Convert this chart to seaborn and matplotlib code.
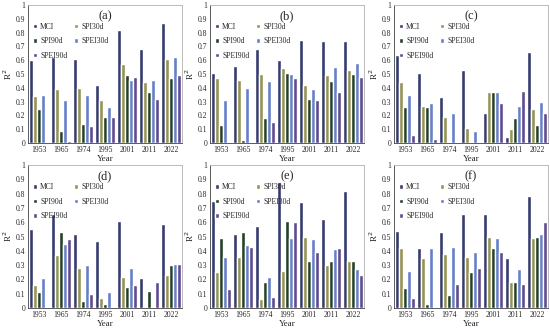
import pandas as pd
import matplotlib
matplotlib.use('Agg')
import matplotlib.pyplot as plt
import seaborn as sns

years = ['1953', '1965', '1974', '1995', '2001', '2011', '2022']
indices = ['MCI', 'SPI30d', 'SPI90d', 'SPEI30d', 'SPEI90d']
panel_labels = ['(a)', '(b)', '(c)', '(d)', '(e)', '(f)']

# values per index, one list per year order
a_vals = {
    'MCI':     [0.60, 0.62, 0.61, 0.42, 0.82, 0.68, 0.87],
    'SPI30d':  [0.34, 0.39, 0.40, 0.31, 0.57, 0.44, 0.61],
    'SPI90d':  [0.25, 0.085, 0.14, 0.19, 0.49, 0.37, 0.47],
    'SPEI30d': [0.35, 0.31, 0.35, 0.26, 0.46, 0.46, 0.62],
    'SPEI90d': [0.005, 0.015, 0.12, 0.19, 0.48, 0.32, 0.49],
}
b_vals = {
    'MCI':     [0.51, 0.56, 0.68, 0.60, 0.75, 0.74, 0.74],
    'SPI30d':  [0.47, 0.46, 0.50, 0.54, 0.42, 0.49, 0.53],
    'SPI90d':  [0.13, 0.02, 0.18, 0.51, 0.32, 0.45, 0.50],
    'SPEI30d': [0.31, 0.40, 0.45, 0.50, 0.39, 0.55, 0.58],
    'SPEI90d': [0.005, 0.003, 0.15, 0.47, 0.31, 0.37, 0.48],
}
c_vals = {
    'MCI':     [0.64, 0.51, 0.33, 0.53, 0.22, 0.04, 0.66],
    'SPI30d':  [0.44, 0.27, 0.19, 0.11, 0.37, 0.10, 0.25],
    'SPI90d':  [0.26, 0.26, 0.01, 0.01, 0.37, 0.18, 0.13],
    'SPEI30d': [0.35, 0.29, 0.22, 0.09, 0.37, 0.27, 0.30],
    'SPEI90d': [0.06, 0.03, 0.003, 0.01, 0.29, 0.38, 0.22],
}
d_vals = {
    'MCI':     [0.55, 0.66, 0.52, 0.47, 0.61, 0.21, 0.59],
    'SPI30d':  [0.16, 0.37, 0.28, 0.07, 0.22, 0.01, 0.23],
    'SPI90d':  [0.11, 0.53, 0.05, 0.03, 0.15, 0.12, 0.30],
    'SPEI30d': [0.21, 0.45, 0.30, 0.11, 0.28, 0.01, 0.31],
    'SPEI90d': [0.01, 0.48, 0.10, 0.01, 0.16, 0.18, 0.31],
}
e_vals = {
    'MCI':     [0.75, 0.52, 0.57, 0.88, 0.74, 0.62, 0.82],
    'SPI30d':  [0.25, 0.36, 0.06, 0.26, 0.50, 0.30, 0.33],
    'SPI90d':  [0.49, 0.53, 0.18, 0.61, 0.33, 0.33, 0.33],
    'SPEI30d': [0.36, 0.44, 0.22, 0.49, 0.48, 0.41, 0.27],
    'SPEI90d': [0.13, 0.43, 0.08, 0.60, 0.39, 0.42, 0.23],
}
f_vals = {
    'MCI':     [0.54, 0.42, 0.53, 0.66, 0.66, 0.35, 0.78],
    'SPI30d':  [0.42, 0.35, 0.38, 0.36, 0.50, 0.18, 0.49],
    'SPI90d':  [0.14, 0.03, 0.09, 0.25, 0.42, 0.18, 0.50],
    'SPEI30d': [0.26, 0.42, 0.43, 0.39, 0.49, 0.27, 0.52],
    'SPEI90d': [0.07, 0.003, 0.17, 0.28, 0.39, 0.17, 0.60],
}
panels = [a_vals, b_vals, c_vals, d_vals, e_vals, f_vals]

palette = {'MCI': '#2b3378', 'SPI30d': '#a09c48', 'SPI90d': '#1f4621',
           'SPEI30d': '#5679d8', 'SPEI90d': '#5a3f9c'}

sns.set_style('white')
plt.rcParams['font.family'] = ['Liberation Serif', 'DejaVu Serif']

fig = plt.figure(figsize=(5.5, 3.3), dpi=100)
W, H = 550, 330
lefts = [28, 210, 394]
rows = [(5, 143), (165, 308)]
# legend reads row-wise in the original, matplotlib fills by column
leg_order = [0, 2, 4, 1, 3]

for i, vals in enumerate(panels):
    r, c = divmod(i, 3)
    top, bot = rows[r]
    left = lefts[c]
    ax = fig.add_axes([left / W, 1 - bot / H, 154 / W, (bot - top) / H])
    df = pd.DataFrame([(y, k, vals[k][j]) for k in indices for j, y in enumerate(years)],
                      columns=['Year', 'Index', 'R2'])
    sns.barplot(data=df, x='Year', y='R2', hue='Index', hue_order=indices,
                order=years, palette=palette, width=0.88, gap=0.08, ax=ax)
    ax.set_ylim(0, 1)
    ax.set_yticks([k / 10 for k in range(11)])
    ax.set_yticklabels(['0'] + [f'{k / 10:.1f}' for k in range(1, 10)] + ['1'])
    ax.tick_params(axis='both', labelsize=5.5, length=0, pad=2)
    ax.set_xlabel('Year', fontsize=6.5, labelpad=1)
    ax.set_ylabel('R$^2$', fontsize=6.5, labelpad=1)
    for s in ['top', 'right']:
        ax.spines[s].set_color('#b0b0b0')
        ax.spines[s].set_linewidth(0.6)
    for s in ['left', 'bottom']:
        ax.spines[s].set_color('#404040')
        ax.spines[s].set_linewidth(0.6)
    ax.text(0.5, 0.92, panel_labels[i], transform=ax.transAxes, ha='center',
            va='center', fontsize=9)
    handles, labels = ax.get_legend_handles_labels()
    ax.legend([handles[k] for k in leg_order], [labels[k] for k in leg_order],
              loc='upper left', bbox_to_anchor=(0.0, 0.91), ncol=2, frameon=False,
              fontsize=5.5, handlelength=0.5, handleheight=0.5, handletextpad=0.4,
              columnspacing=0.9, labelspacing=0.85, borderaxespad=0.3)

fig.savefig('out.png', dpi=100)
